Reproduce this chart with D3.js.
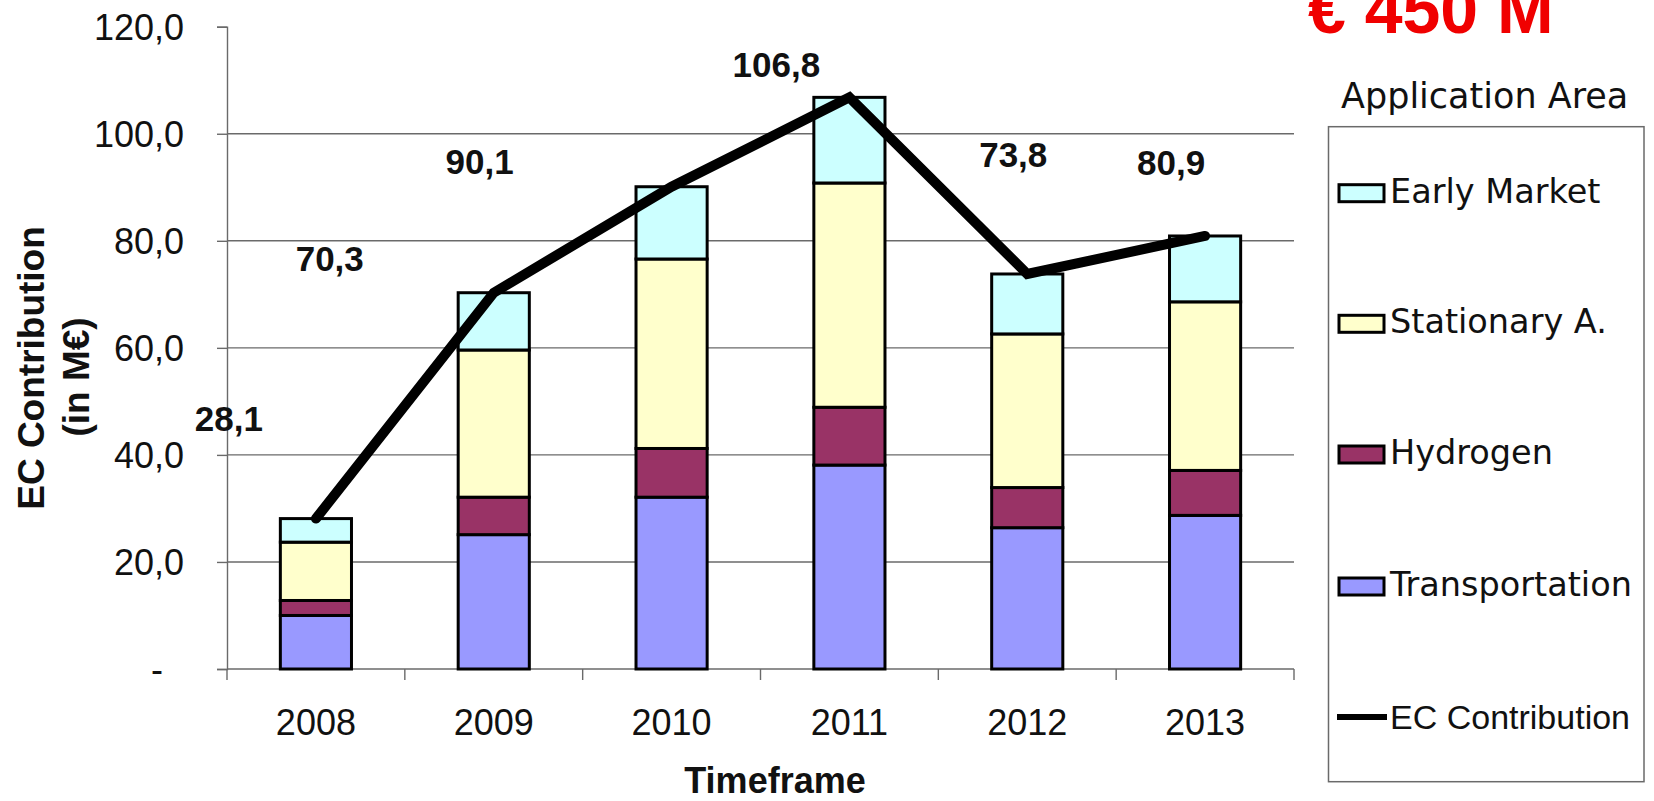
<!DOCTYPE html>
<html>
<head>
<meta charset="utf-8">
<script src="https://cdn.jsdelivr.net/npm/d3@7/dist/d3.min.js"></script>
<style>
  html, body { margin: 0; padding: 0; background: #fff; }
  svg { display: block; }
</style>
</head>
<body>
<svg id="chart" width="1654" height="801" font-family="'Liberation Sans', Arial, sans-serif"></svg>
<script>
// EC contribution per year, split by application area (M€)
const years = ["2008", "2009", "2010", "2011", "2012", "2013"];
const transportation = [10.0, 25.1, 32.1, 38.1, 26.4, 28.7];
const hydrogen       = [2.8, 7.0, 9.1, 10.8, 7.5, 8.4];
const stationary     = [10.9, 27.5, 35.4, 41.9, 28.7, 31.5];
const earlyMarket    = [4.4, 10.7, 13.5, 16.0, 11.2, 12.3];
const ecContribution = [28.1, 70.3, 90.1, 106.8, 73.8, 80.9];
const yTicks = [0, 20, 40, 60, 80, 100, 120];
const seriesNames = ["Transportation", "Hydrogen", "Stationary A.", "Early Market"];
const legendOrder = ["Early Market", "Stationary A.", "Hydrogen", "Transportation"];

// layout
const plot = { left: 227, right: 1294, top: 26.7, bottom: 669 };
const colors = {
  "Transportation": "#9999ff",
  "Hydrogen": "#993366",
  "Stationary A.": "#ffffcc",
  "Early Market": "#ccffff"
};
const legendFont = "'DejaVu Sans', Verdana, sans-serif";
// value label placement relative to each line vertex (px)
const labelOffsets = [[-87, -88], [-164, -22], [-192, -13], [-73, -20], [-14, -107], [-34, -61]];

const svg = d3.select("#chart");

const x = d3.scaleBand().domain(years)
  .range([plot.left, plot.right]).paddingInner(0.6).paddingOuter(0.3);
const y = d3.scaleLinear().domain([0, 120]).range([plot.bottom, plot.top]);

const locale = d3.formatLocale({ decimal: ",", thousands: ".", grouping: [3], currency: ["€", ""] });
const fmt = locale.format(".1f");

// gridlines (no line at the top value)
svg.append("g").selectAll("line")
  .data(yTicks.filter(t => t > 0 && t < 120))
  .join("line")
  .attr("x1", plot.left).attr("x2", plot.right)
  .attr("y1", d => y(d)).attr("y2", d => y(d))
  .attr("stroke", "#6a6a6a").attr("stroke-width", 1.4);

// y axis
const yAxis = svg.append("g")
  .attr("transform", `translate(${plot.left},0)`)
  .call(d3.axisLeft(y).tickValues(yTicks).tickSize(10).tickPadding(33)
    .tickFormat(d => d === 0 ? "-" : fmt(d)));
yAxis.select(".domain").attr("stroke", "#6a6a6a").attr("stroke-width", 1.4);
yAxis.selectAll(".tick line").attr("stroke", "#6a6a6a").attr("stroke-width", 1.4);
yAxis.selectAll(".tick text")
  .attr("font-size", 36).attr("fill", "#111")
  .attr("font-family", "'Liberation Sans', Arial, sans-serif")
  .attr("dy", "0.36em")
  .attr("dx", d => d === 0 ? -21 : 0);

// x axis with ticks on category boundaries
const xAxisG = svg.append("g").attr("transform", `translate(0,${plot.bottom})`);
xAxisG.append("line")
  .attr("x1", plot.left).attr("x2", plot.right)
  .attr("stroke", "#6a6a6a").attr("stroke-width", 1.4);
const boundaries = d3.range(years.length + 1).map(i => plot.left + i * x.step());
xAxisG.selectAll(".bt").data(boundaries).join("line").attr("class", "bt")
  .attr("x1", d => d).attr("x2", d => d).attr("y1", 0).attr("y2", 11)
  .attr("stroke", "#6a6a6a").attr("stroke-width", 1.4);
xAxisG.selectAll(".yl").data(years).join("text").attr("class", "yl")
  .attr("x", d => x(d) + x.bandwidth() / 2).attr("y", 66)
  .attr("text-anchor", "middle").attr("font-size", 36).attr("fill", "#111")
  .text(d => d);

// stacked bars
const rows = years.map((yr, i) => ({
  year: yr,
  "Transportation": transportation[i],
  "Hydrogen": hydrogen[i],
  "Stationary A.": stationary[i],
  "Early Market": earlyMarket[i]
}));
const stack = d3.stack().keys(seriesNames)(rows);
svg.append("g").selectAll("g").data(stack).join("g")
  .attr("fill", d => colors[d.key])
  .selectAll("rect").data(d => d).join("rect")
  .attr("x", d => x(d.data.year))
  .attr("width", x.bandwidth())
  .attr("y", d => y(d[1]))
  .attr("height", d => y(d[0]) - y(d[1]))
  .attr("stroke", "#000").attr("stroke-width", 3);

// EC contribution line
const pts = years.map((yr, i) => [x(yr) + x.bandwidth() / 2, y(ecContribution[i])]);
svg.append("path")
  .attr("d", d3.line()(pts))
  .attr("fill", "none").attr("stroke", "#000").attr("stroke-width", 10)
  .attr("stroke-linejoin", "miter").attr("stroke-linecap", "round");

// value labels
svg.append("g").selectAll("text").data(ecContribution).join("text")
  .attr("x", (d, i) => pts[i][0] + labelOffsets[i][0])
  .attr("y", (d, i) => pts[i][1] + labelOffsets[i][1])
  .attr("text-anchor", "middle").attr("font-size", 35).attr("font-weight", "bold")
  .attr("fill", "#111")
  .text(d => fmt(d));

// axis titles
svg.append("text")
  .attr("transform", "translate(44,368) rotate(-90)")
  .attr("text-anchor", "middle").attr("font-size", 37).attr("font-weight", "bold")
  .attr("fill", "#111")
  .text("EC Contribution");
svg.append("text")
  .attr("transform", "translate(89,377) rotate(-90)")
  .attr("text-anchor", "middle").attr("font-size", 37).attr("font-weight", "bold")
  .attr("fill", "#111")
  .text("(in M€)");
svg.append("text")
  .attr("x", 775).attr("y", 793)
  .attr("text-anchor", "middle").attr("font-size", 36).attr("font-weight", "bold")
  .attr("fill", "#111")
  .text("Timeframe");

// total headline
svg.append("text")
  .attr("x", 1308).attr("y", 33)
  .attr("font-size", 68).attr("font-weight", "bold").attr("fill", "#f00000")
  .text("€ 450 M");

// legend
svg.append("text")
  .attr("x", 1341).attr("y", 108)
  .attr("font-family", legendFont)
  .attr("font-size", 35).attr("fill", "#111")
  .text("Application Area");
svg.append("rect")
  .attr("x", 1328.5).attr("y", 126.7).attr("width", 315.5).attr("height", 655)
  .attr("fill", "#fff").attr("stroke", "#6a6a6a").attr("stroke-width", 1.5);

const legendBaselines = [202.7, 333.3, 464, 596];
const lg = svg.append("g").selectAll("g").data(legendOrder).join("g")
  .attr("transform", (d, i) => `translate(1339,${legendBaselines[i]})`);
lg.append("rect")
  .attr("x", 0).attr("y", -18).attr("width", 45).attr("height", 17)
  .attr("fill", d => colors[d]).attr("stroke", "#000").attr("stroke-width", 3);
lg.append("text")
  .attr("x", 51).attr("y", 0)
  .attr("font-family", legendFont)
  .attr("font-size", 33.5).attr("fill", "#111")
  .text(d => d);

const lineLegend = svg.append("g").attr("transform", "translate(1337,717)");
lineLegend.append("line")
  .attr("x1", 0).attr("x2", 50).attr("y1", 0).attr("y2", 0)
  .attr("stroke", "#000").attr("stroke-width", 6);
lineLegend.append("text")
  .attr("x", 53).attr("y", 12)
  .attr("font-size", 34).attr("fill", "#111")
  .text("EC Contribution");
</script>
</body>
</html>
